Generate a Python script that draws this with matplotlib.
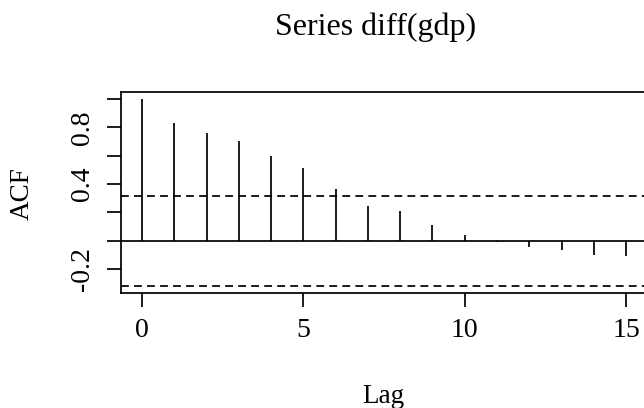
import matplotlib
matplotlib.use("Agg")
import matplotlib.pyplot as plt
import numpy as np

# ACF of diff(gdp)
lags = [0, 1, 2, 3, 4, 5, 6, 7, 8, 9, 10, 11, 12, 13, 14, 15]
acf = [1.0, 0.833, 0.76, 0.707, 0.596, 0.514, 0.367, 0.248, 0.206, 0.11,
       0.037, -0.012, -0.044, -0.068, -0.10, -0.112]
clim = 0.318
lag_max = 16
xticks = [0, 5, 10, 15]
yticks = [-0.2, 0.0, 0.2, 0.4, 0.6, 0.8, 1.0]
ytick_labels = ["-0.2", "", "", "0.4", "", "0.8", ""]

plt.rcParams["font.family"] = ["Liberation Serif", "DejaVu Serif"]

fig = plt.figure(figsize=(6.44, 4.08), dpi=100)
# plot region runs past the right edge, as in the cropped reference
ax = fig.add_axes([121.3 / 644, 115 / 408, 557.7 / 644, 201.3 / 408])

lw = 1.25
ax.vlines(lags, 0, acf, color="black", lw=lw)
ax.axhline(0, color="black", lw=lw)
for c in (clim, -clim):
    ax.axhline(c, color="black", lw=lw, linestyle=(0, (4.5, 3)))

lo, hi = min(-clim, min(acf)), max(clim, max(acf))
pad = 0.04 * (hi - lo)
ax.set_ylim(lo - pad, hi + pad)
ax.set_xlim(-0.04 * lag_max, lag_max * 1.04)

ax.set_xticks(xticks)
ax.set_yticks(yticks)
ax.set_yticklabels(ytick_labels, rotation=90, va="center")
ax.tick_params(axis="both", length=10, width=lw, labelsize=20, direction="out")
ax.tick_params(axis="x", pad=8)
ax.tick_params(axis="y", pad=9)
for s in ax.spines.values():
    s.set_linewidth(lw)

fig.text(376 / 644, 1 - 35 / 408, "Series diff(gdp)", ha="center",
         va="baseline", fontsize=23)
fig.text(383 / 644, 1 - 403 / 408, "Lag", ha="center", va="baseline",
         fontsize=19.5)
fig.text(22 / 644, 1 - 194 / 408, "ACF", ha="center", va="center",
         rotation=90, fontsize=19.5)

fig.savefig("out.png", dpi=100)
